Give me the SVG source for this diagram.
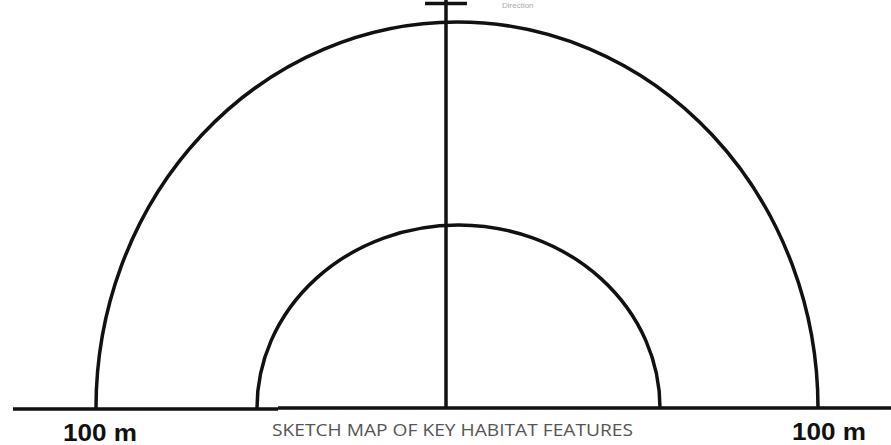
<svg xmlns="http://www.w3.org/2000/svg" width="891" height="445" viewBox="0 0 891 445">
<style>
.ln{fill:none;stroke:#111;stroke-width:3.5;stroke-linecap:butt}
.lbl{font-family:"Liberation Sans",Arial,sans-serif;font-weight:bold;font-size:23px;fill:#111}
.title{font-family:"Open Sans","Liberation Sans",sans-serif;font-size:17px;fill:#555}
.dir{font-family:"Liberation Sans",sans-serif;font-size:8px;fill:#aaa}
</style>
<rect width="891" height="445" fill="#fff"/>
<g id="connectors">
<path class="ln" d="M13 409 H278 M278 408 H891"/>
<path id="axis" class="ln" d="M446 0 V408 M425 3.5 H467"/>
</g>
<g id="outer-arc">
<path class="ln" d="M96 408 A361 386 0 0 1 818 408"/>
</g>
<g id="inner-arc">
<path class="ln" d="M257 408 A201.5 183 0 0 1 660 408"/>
</g>
<g id="direction-label">
<text class="dir" x="502" y="8">Direction</text>
</g>
<g id="left-label"><text class="lbl" x="63" y="441" textLength="74" lengthAdjust="spacingAndGlyphs">100 m</text></g>
<g id="right-label"><text class="lbl" x="792" y="440" textLength="74" lengthAdjust="spacingAndGlyphs">100 m</text></g>
<g id="title"><text class="title" x="272" y="436" textLength="361" lengthAdjust="spacingAndGlyphs">SKETCH MAP OF KEY HABITAT FEATURES</text></g>
</svg>
